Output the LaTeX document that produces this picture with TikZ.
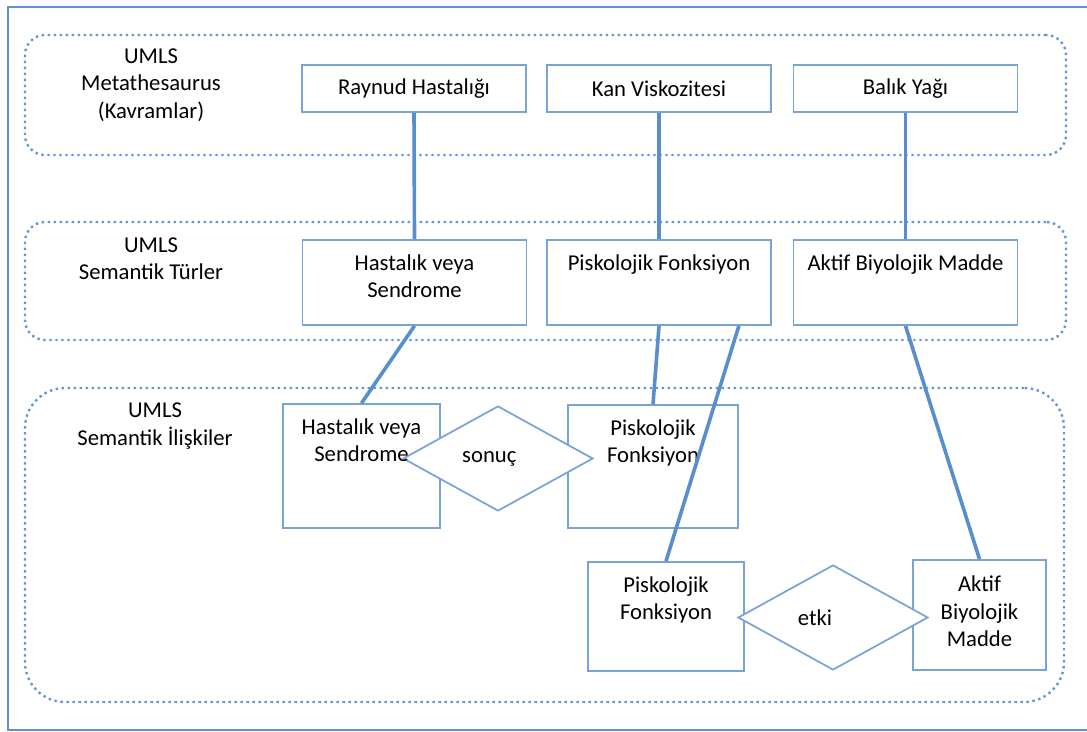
\documentclass[tikz,border=0pt]{standalone}
\usepackage{fontspec}
\setmainfont{Carlito}
\usetikzlibrary{shapes.geometric,positioning}

\definecolor{framblue}{RGB}{100,145,205}
\definecolor{linkblue}{RGB}{88,142,206}
\definecolor{boxblue}{RGB}{120,163,215}
\definecolor{dotblue}{RGB}{100,150,212}

\tikzset{
  band/.style={draw=dotblue, line width=1.8pt, dash pattern={on 1.8pt off 2.7pt}},
  box/.style={draw=boxblue, line width=1.3pt, fill=white},
  rel/.style={shape=diamond, draw=boxblue, line width=1.3pt, fill=white, inner sep=0pt,
    minimum width=142.5pt, minimum height=78.75pt},
  txt/.style={align=center, inner sep=0pt, font=\fontsize{17}{20.5}\selectfont},
  link/.style={draw=linkblue, line width=2.7pt}
}

\begin{document}
\begin{tikzpicture}[x=0.75pt,y=0.75pt,yscale=-1]
\useasboundingbox (0,0) rectangle (1087,731);

%Frame
\draw[framblue, line width=1.5pt] (1087,7) -- (7.5,7) -- (7.5,730) -- (1087,730);

%Bands
\node[band, minimum width=780.75pt, minimum height=90pt, rounded corners=15pt] (kavr) at (545.5,95) {};
\node[band, minimum width=780.75pt, minimum height=88.5pt, rounded corners=15pt] (tur) at (545.5,281) {};
\node[band, minimum width=779.25pt, minimum height=235.5pt, rounded corners=30pt] (ilis) at (544.5,545) {};

%Band labels
\node[txt] (kavrlbl) at (151,85) {UMLS\\Metathesaurus\\(Kavramlar)};
\node[txt] (turlbl) at (151,259) {UMLS\\Semantik Türler};
\node[txt] (ilislbl) at (155,426) {UMLS\\Semantik İlişkiler};

%Concepts
\node[box, txt, minimum width=168pt, minimum height=35.25pt] (raynud) at (414,88.5) {Raynud Hastalığı};
\node[box, txt, minimum width=168pt, minimum height=35.25pt] (kan) at (659,88.5) {Kan Viskozitesi};
\node[box, txt, minimum width=168pt, minimum height=35.25pt] (balik) at (905.5,88.5) {Balık Yağı};

%Semantic types
\node[box, minimum width=168pt, minimum height=63.75pt] (hastt) at (414.5,282.5) {};
\node[box, minimum width=168pt, minimum height=63.75pt] (pskt) at (659,282.5) {};
\node[box, minimum width=168pt, minimum height=63.75pt] (aktt) at (905.5,282.5) {};

%Semantic relations
\node[box, minimum width=117.75pt, minimum height=93pt] (hastr) at (361.5,466) {};
\node[box, minimum width=127.5pt, minimum height=92.25pt] (pskr) at (653,466.5) {};
\node[box, minimum width=117pt, minimum height=81.75pt] (psks) at (666,616.5) {};
\node[box, minimum width=99.75pt, minimum height=82.5pt] (aktr) at (979.5,615) {};

\node[rel, txt] (sonuc) at (498,458.5) {sonuç\hspace*{13pt}};
\node[rel, txt] (etki) at (833,617.5) {etki\hspace*{27pt}};

%Box texts
\node[txt, below=11.5pt of hastt.north] (hasttx) {Hastalık veya\\Sendrome};
\node[txt, below=11.5pt of pskt.north] (psktx) {Piskolojik Fonksiyon};
\node[txt, below=11.5pt of aktt.north] (akttx) {Aktif Biyolojik Madde};
\node[txt, below=11.5pt of hastr.north] (hastrx) {Hastalık veya\\Sendrome};
\node[txt, below=11.5pt of pskr.north] (pskrx) {Piskolojik\\Fonksiyon};
\node[txt, below=11.5pt of psks.north] (psksx) {Piskolojik\\Fonksiyon};
\node[txt, below=12.5pt of aktr.north] (aktrx) {Aktif\\Biyolojik\\Madde};

%Links
\draw[link] (raynud.south) -- (hastt.north);
\draw[link] (kan.south) -- (pskt.north);
\draw[link] (balik.south) -- (aktt.north);
\draw[link] (hastt.south) -- (hastr.north);
\draw[link] (pskt.south) -- (pskr.north);
\draw[link] ([xshift=-24.75pt]pskt.south east) -- (psks.north);
\draw[link] (aktt.south) -- (aktr.north);

\end{tikzpicture}
\end{document}
